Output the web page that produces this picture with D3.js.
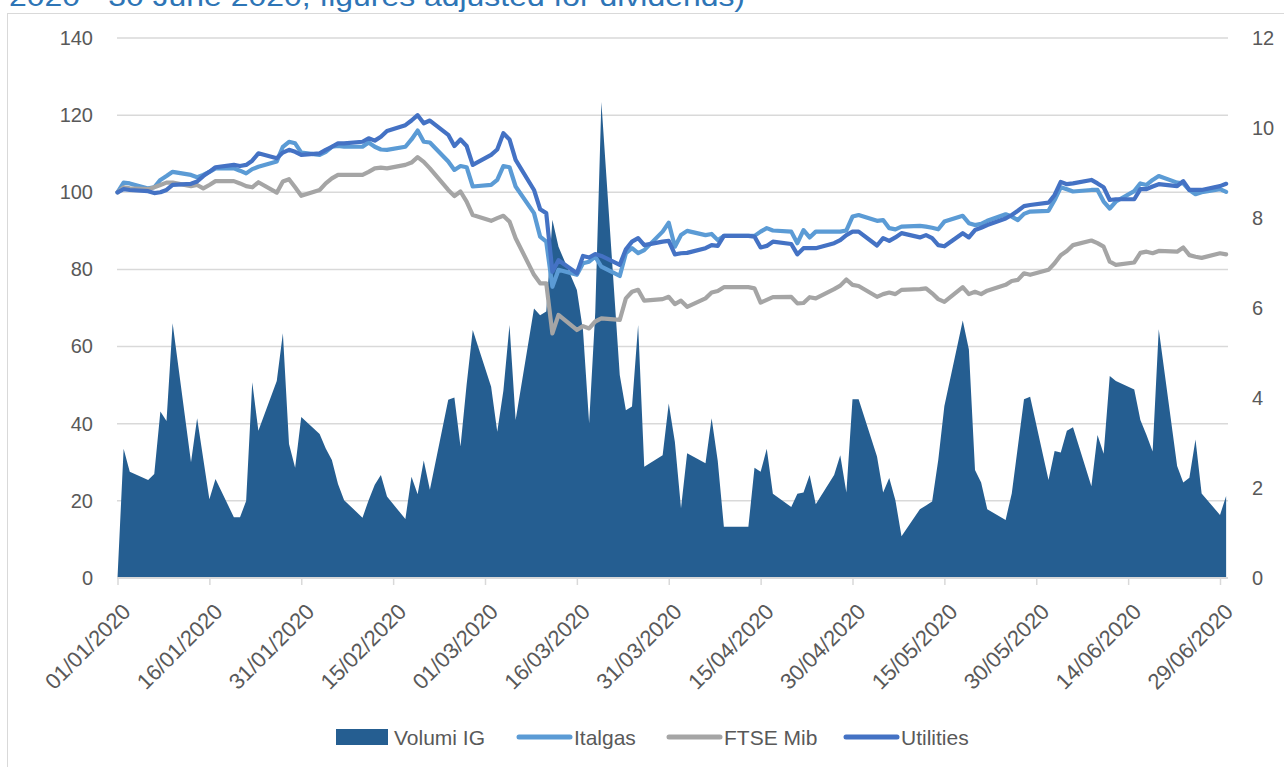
<!DOCTYPE html>
<html>
<head>
<meta charset="utf-8">
<script src="https://cdn.jsdelivr.net/npm/d3@7"></script>
<style>
  body { margin: 0; background: #fff; }
  svg text { font-family: "Liberation Sans", Arial, sans-serif; }
</style>
</head>
<body>
<svg width="1284" height="767"></svg>
<script>
// trading days, 01/01/2020 - 30/06/2020
const dates = [
  "2020-01-01","2020-01-02","2020-01-03","2020-01-06","2020-01-07","2020-01-08","2020-01-09","2020-01-10","2020-01-13","2020-01-14","2020-01-15","2020-01-16","2020-01-17","2020-01-20","2020-01-21","2020-01-22","2020-01-23","2020-01-24","2020-01-27","2020-01-28","2020-01-29","2020-01-30","2020-01-31",
  "2020-02-03","2020-02-04","2020-02-05","2020-02-06","2020-02-07","2020-02-10","2020-02-11","2020-02-12","2020-02-13","2020-02-14","2020-02-17","2020-02-18","2020-02-19","2020-02-20","2020-02-21","2020-02-24","2020-02-25","2020-02-26","2020-02-27","2020-02-28",
  "2020-03-02","2020-03-03","2020-03-04","2020-03-05","2020-03-06","2020-03-09","2020-03-10","2020-03-11","2020-03-12","2020-03-13","2020-03-16","2020-03-17","2020-03-18","2020-03-19","2020-03-20","2020-03-23","2020-03-24","2020-03-25","2020-03-26","2020-03-27","2020-03-30","2020-03-31",
  "2020-04-01","2020-04-02","2020-04-03","2020-04-06","2020-04-07","2020-04-08","2020-04-09","2020-04-10","2020-04-13","2020-04-14","2020-04-15","2020-04-16","2020-04-17","2020-04-20","2020-04-21","2020-04-22","2020-04-23","2020-04-24","2020-04-27","2020-04-28","2020-04-29","2020-04-30",
  "2020-05-01","2020-05-04","2020-05-05","2020-05-06","2020-05-07","2020-05-08","2020-05-11","2020-05-12","2020-05-13","2020-05-14","2020-05-15","2020-05-18","2020-05-19","2020-05-20","2020-05-21","2020-05-22","2020-05-25","2020-05-26","2020-05-27","2020-05-28","2020-05-29",
  "2020-06-01","2020-06-02","2020-06-03","2020-06-04","2020-06-05","2020-06-08","2020-06-09","2020-06-10","2020-06-11","2020-06-12","2020-06-15","2020-06-16","2020-06-17","2020-06-18","2020-06-19","2020-06-22","2020-06-23","2020-06-24","2020-06-25","2020-06-26","2020-06-29","2020-06-30"
];

// right axis
const volumiIG = [
  0, 2.87, 2.36, 2.18, 2.31, 3.70, 3.49, 5.66, 2.57, 3.55, 2.65, 1.75, 2.20, 1.35, 1.35, 1.71, 4.35, 3.27, 4.38, 5.44, 2.98, 2.45, 3.58,
  3.20, 2.88, 2.62, 2.09, 1.73, 1.34, 1.73, 2.07, 2.29, 1.81, 1.31, 2.25, 1.86, 2.61, 1.96, 3.96, 4.01, 2.92, 4.30, 5.51,
  4.25, 3.25, 4.16, 5.62, 3.51, 5.99, 5.84, 5.92, 7.96, 7.36, 6.40, 5.50, 3.44, 5.90, 10.58, 4.51, 3.73, 3.81, 5.62, 2.47, 2.73, 3.88,
  3.02, 1.55, 2.77, 2.55, 3.55, 2.60, 1.14, 1.14, 1.14, 2.45, 2.36, 2.87, 1.87, 1.58, 1.87, 1.90, 2.29, 1.64, 2.29, 2.73, 1.90, 3.97,
  3.97, 2.70, 1.90, 2.22, 1.73, 0.93, 1.53, 1.61, 1.70, 2.62, 3.82, 5.72, 5.08, 2.40, 2.12, 1.53, 1.29, 1.88, 2.92, 3.97, 4.03,
  2.18, 2.82, 2.79, 3.27, 3.35, 2.04, 3.18, 2.76, 4.49, 4.38, 4.19, 3.51, 3.18, 2.81, 5.53, 2.49, 2.12, 2.23, 3.08, 1.88, 1.40, 1.82
];

// left axis, base 100
const italgas = [
  100, 102.5, 102.3, 101.0, 101.3, 103.2, 104.2, 105.3, 104.5, 103.9, 104.5, 105.3, 106.2, 106.2, 105.6, 104.9, 106.0, 106.6, 108.0, 111.8, 113.1, 112.7, 110.3,
  109.7, 110.5, 111.8, 112.0, 111.8, 111.8, 112.9, 111.8, 111.1, 111.0, 111.8, 113.7, 116.0, 113.1, 112.9, 108.0, 105.8, 106.8, 106.5, 101.5,
  101.9, 103.2, 106.8, 106.5, 101.5, 94.6, 88.5, 87.2, 75.5, 79.9, 78.6, 81.6, 82.0, 83.3, 80.7, 78.3, 84.2, 85.5, 84.2, 85.0, 89.8, 92.1,
  85.9, 88.9, 90.0, 88.9, 89.2, 87.6, 88.7, 88.7, 88.7, 88.7, 89.8, 90.7, 90.1, 89.8, 86.8, 90.2, 88.3, 89.8, 89.8, 89.8, 90.1, 93.7,
  94.1, 92.6, 92.8, 90.7, 90.4, 91.1, 91.3, 91.1, 90.8, 90.4, 92.4, 93.9, 92.0, 91.5, 91.8, 92.6, 94.3, 93.7, 92.8, 94.4, 95.0,
  95.2, 98.0, 101.3, 100.8, 100.2, 100.6, 100.6, 97.6, 95.8, 97.6, 100.3, 102.3, 101.9, 103.2, 104.2, 102.5, 102.3, 100.6, 99.5, 100.0, 100.8, 100.1
];

const ftseMib = [
  100, 101.3, 101.0, 100.8, 101.3, 101.9, 102.5, 102.5, 101.6, 101.9, 101.0, 101.9, 102.9, 102.9, 102.3, 101.6, 101.3, 102.6, 99.9, 102.8, 103.4, 101.3, 99.1,
  100.6, 102.3, 103.6, 104.5, 104.5, 104.5, 105.3, 106.2, 106.4, 106.2, 107.1, 107.7, 109.1, 107.9, 106.2, 100.6, 99.0, 100.2, 97.6, 94.1,
  92.6, 93.3, 93.9, 92.4, 88.1, 78.6, 76.4, 76.4, 63.4, 68.2, 64.3, 65.3, 64.7, 66.5, 67.3, 66.9, 72.5, 74.2, 74.7, 71.9, 72.3, 72.9,
  71.0, 71.9, 70.3, 72.5, 74.0, 74.4, 75.4, 75.4, 75.4, 75.1, 71.4, 72.1, 72.8, 72.9, 71.2, 71.3, 72.8, 72.5, 74.9, 75.8, 77.4, 76.0,
  75.7, 72.9, 73.6, 74.0, 73.6, 74.7, 74.9, 75.1, 73.8, 72.3, 71.6, 75.4, 73.6, 74.2, 73.6, 74.5, 76.0, 77.0, 77.3, 79.0, 78.6,
  79.9, 81.6, 83.7, 84.8, 86.3, 87.5, 86.8, 85.9, 82.0, 81.2, 81.8, 84.3, 84.6, 84.2, 84.8, 84.6, 85.7, 83.7, 83.3, 83.0, 84.2, 83.9
];

const utilities = [
  100, 100.8, 100.6, 100.3, 99.8, 100.0, 100.6, 101.9, 102.2, 102.8, 104.2, 105.3, 106.5, 107.1, 106.8, 107.1, 108.2, 110.1, 108.8, 110.3, 111.0, 110.5, 109.7,
  110.1, 111.0, 111.8, 112.7, 112.7, 113.1, 114.0, 113.4, 114.4, 115.9, 117.4, 118.6, 120.0, 117.9, 118.6, 114.9, 112.0, 113.7, 112.0, 107.1,
  109.7, 111.1, 115.3, 113.7, 108.4, 100.6, 95.6, 94.6, 79.4, 82.4, 79.0, 83.5, 83.1, 84.0, 83.5, 81.2, 85.2, 87.2, 88.1, 86.3, 87.2, 87.4,
  83.9, 84.2, 84.3, 85.5, 86.3, 86.1, 88.7, 88.7, 88.7, 88.5, 85.7, 86.1, 87.2, 86.6, 83.9, 85.5, 85.5, 85.5, 86.8, 87.6, 88.9, 89.8,
  89.8, 86.2, 88.1, 87.4, 88.3, 89.4, 88.3, 88.9, 88.1, 86.3, 86.0, 89.4, 88.3, 90.2, 90.8, 91.5, 93.2, 94.1, 95.2, 96.4, 96.7,
  97.3, 99.3, 102.7, 102.1, 102.3, 103.2, 102.3, 101.3, 98.0, 98.2, 98.2, 100.8, 100.8, 101.5, 102.1, 101.6, 102.9, 100.6, 100.6, 100.6, 101.6, 102.2
];

const xTickLabels = ["01/01/2020","16/01/2020","31/01/2020","15/02/2020","01/03/2020","16/03/2020","31/03/2020",
                     "15/04/2020","30/04/2020","15/05/2020","30/05/2020","14/06/2020","29/06/2020"];
const leftTicks = [0, 20, 40, 60, 80, 100, 120, 140];
const rightTicks = [0, 2, 4, 6, 8, 10, 12];

const titleText = "2020 - 30 June 2020, figures adjusted for dividends)";

const colors = { volumi: "#255E91", italgas: "#5B9BD5", ftse: "#A5A5A5", utilities: "#4472C4" };
const gridColor = "#D9D9D9";
const labelColor = "#595959";

const svg = d3.select("svg");
const parseDay = d3.utcParse("%Y-%m-%d");
const parseTick = d3.utcParse("%d/%m/%Y");
const fmtTick = d3.utcFormat("%d/%m/%Y");

const plotLeft = 117, plotRight = 1228, plotTop = 38, plotBottom = 578;

const x = d3.scaleUtc()
  .domain([parseTick(xTickLabels[0]), parseTick(xTickLabels[xTickLabels.length - 1])])
  .range([117.5, 1220]);
const yLeft = d3.scaleLinear().domain([0, 140]).range([plotBottom, plotTop]);
const yRight = d3.scaleLinear().domain([0, 12]).range([plotBottom, plotTop]);

const rows = dates.map((d, i) => ({
  date: parseDay(d),
  volumi: volumiIG[i],
  italgas: italgas[i],
  ftse: ftseMib[i],
  utilities: utilities[i]
}));

// chart frame and title (title is the 2nd line of a heading cut at the top, as in the source)
svg.append("rect")
  .attr("x", 7.5).attr("y", 13.5)
  .attr("width", 1300).attr("height", 800)
  .attr("fill", "none").attr("stroke", gridColor).attr("stroke-width", 1);

svg.append("text")
  .attr("x", 9).attr("y", 6)
  .attr("font-size", 27)
  .attr("fill", "#2E75B6")
  .attr("textLength", 736)
  .attr("lengthAdjust", "spacingAndGlyphs")
  .text(titleText);

// gridlines
svg.append("g")
  .selectAll("line")
  .data(leftTicks.filter(v => v > 0))
  .join("line")
  .attr("x1", plotLeft).attr("x2", plotRight)
  .attr("y1", d => yLeft(d)).attr("y2", d => yLeft(d))
  .attr("stroke", gridColor).attr("stroke-width", 1.5);

// left axis labels
const leftAxis = svg.append("g")
  .attr("transform", "translate(93,0)")
  .call(d3.axisLeft(yLeft).tickValues(leftTicks).tickSize(0).tickPadding(0));
leftAxis.select(".domain").remove();
leftAxis.selectAll("text")
  .attr("font-family", null)
  .attr("font-size", 20).attr("fill", labelColor);

// right axis labels
const rightAxis = svg.append("g")
  .attr("transform", "translate(1252,0)")
  .call(d3.axisRight(yRight).tickValues(rightTicks).tickSize(0).tickPadding(0));
rightAxis.select(".domain").remove();
rightAxis.selectAll("text")
  .attr("font-family", null)
  .attr("font-size", 20).attr("fill", labelColor);

// volume area (right axis)
svg.append("path")
  .datum(rows)
  .attr("fill", colors.volumi)
  .attr("d", d3.area()
    .x(d => x(d.date))
    .y0(yRight(0))
    .y1(d => yRight(d.volumi)));

// x axis
const xAxis = svg.append("g")
  .attr("transform", `translate(0,${plotBottom})`)
  .call(d3.axisBottom(x)
    .tickValues(xTickLabels.map(parseTick))
    .tickSize(7)
    .tickFormat(fmtTick));
xAxis.select(".domain")
  .attr("d", `M${plotLeft},0H${plotRight}`)
  .attr("stroke", gridColor).attr("stroke-width", 2);
xAxis.selectAll(".tick line").attr("stroke", gridColor).attr("stroke-width", 1.5);
xAxis.selectAll(".tick text")
  .attr("font-family", null)
  .attr("font-size", 22).attr("fill", labelColor)
  .attr("text-anchor", "end")
  .attr("dy", 0).attr("y", 0)
  .attr("transform", "translate(14,35) rotate(-45)");

// index lines (left axis)
const seriesLines = [
  { key: "italgas", color: colors.italgas },
  { key: "ftse", color: colors.ftse },
  { key: "utilities", color: colors.utilities }
];
seriesLines.forEach(s => {
  svg.append("path")
    .datum(rows)
    .attr("fill", "none")
    .attr("stroke", s.color)
    .attr("stroke-width", 4.2)
    .attr("stroke-linejoin", "round")
    .attr("stroke-linecap", "round")
    .attr("d", d3.line().x(d => x(d.date)).y(d => yLeft(d[s.key])));
});

// legend
const legendY = 737;
const legendItems = [
  { name: "Volumi IG", color: colors.volumi, type: "area", x: 336 },
  { name: "Italgas", color: colors.italgas, type: "line", x: 516 },
  { name: "FTSE Mib", color: colors.ftse, type: "line", x: 666 },
  { name: "Utilities", color: colors.utilities, type: "line", x: 843 }
];
const legend = svg.append("g");
legendItems.forEach(it => {
  if (it.type === "area") {
    legend.append("rect")
      .attr("x", it.x).attr("y", legendY - 8)
      .attr("width", 52).attr("height", 16)
      .attr("fill", it.color);
  } else {
    legend.append("line")
      .attr("x1", it.x + 3).attr("x2", it.x + 54)
      .attr("y1", legendY).attr("y2", legendY)
      .attr("stroke", it.color).attr("stroke-width", 5)
      .attr("stroke-linecap", "round");
  }
  legend.append("text")
    .attr("x", it.x + 58).attr("y", legendY)
    .attr("dy", "0.36em")
    .attr("font-size", 21).attr("fill", labelColor)
    .text(it.name);
});
</script>
</body>
</html>
